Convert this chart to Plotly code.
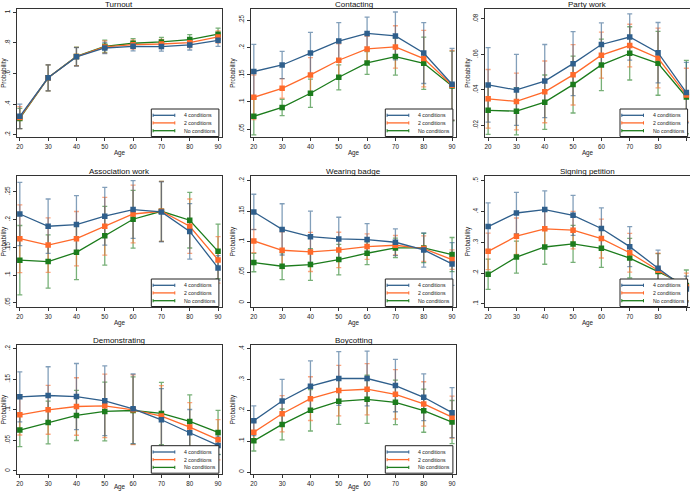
import plotly.graph_objects as go

ages = [20, 30, 40, 50, 60, 70, 80, 90]
series_names = ["4 conditions", "2 conditions", "No conditions"]
panel_titles = ["Turnout", "Contacting", "Party work", "Association work",
                "Wearing badge", "Signing petition", "Demonstrating", "Boycotting"]

# Turnout
turnout_4 = [0.320, 0.572, 0.709, 0.767, 0.778, 0.776, 0.787, 0.817]
turnout_4_err = [0.080, 0.085, 0.060, 0.037, 0.030, 0.030, 0.033, 0.040]
turnout_2 = [0.312, 0.572, 0.711, 0.774, 0.789, 0.793, 0.802, 0.839]
turnout_2_err = [0.072, 0.085, 0.060, 0.040, 0.030, 0.030, 0.033, 0.040]
turnout_0 = [0.306, 0.572, 0.712, 0.778, 0.798, 0.807, 0.822, 0.857]
turnout_0_err = [0.066, 0.085, 0.060, 0.040, 0.030, 0.030, 0.033, 0.040]

# Contacting
contact_4 = [0.156, 0.168, 0.190, 0.212, 0.226, 0.2215, 0.190, 0.1325]
contact_4_err = [0.050, 0.025, 0.038, 0.034, 0.030, 0.044, 0.056, 0.066]
contact_2 = [0.1086, 0.125, 0.1497, 0.1767, 0.1975, 0.2012, 0.1798, 0.1307]
contact_2_err = [0.041, 0.018, 0.032, 0.030, 0.023, 0.039, 0.052, 0.064]
contact_0 = [0.0736, 0.090, 0.116, 0.1454, 0.1718, 0.1834, 0.1712, 0.1294]
contact_0_err = [0.034, 0.015, 0.026, 0.023, 0.021, 0.034, 0.048, 0.064]

# Party work
party_4 = [0.0428, 0.0400, 0.0450, 0.0548, 0.0656, 0.0698, 0.0610, 0.0385]
party_4_err = [0.0210, 0.0200, 0.0206, 0.0180, 0.0122, 0.0130, 0.0170, 0.0170]
party_2 = [0.0350, 0.0335, 0.0389, 0.0485, 0.0596, 0.0650, 0.0580, 0.0372]
party_2_err = [0.0165, 0.0160, 0.0174, 0.0170, 0.0130, 0.0120, 0.0168, 0.0150]
party_0 = [0.0285, 0.0280, 0.0331, 0.0430, 0.0541, 0.0606, 0.0550, 0.0360]
party_0_err = [0.0135, 0.0133, 0.0153, 0.0160, 0.0145, 0.0150, 0.0180, 0.0207]

# Association work
assoc_4 = [0.210, 0.188, 0.191, 0.206, 0.218, 0.2137, 0.1786, 0.113]
assoc_4_err = [0.057, 0.049, 0.052, 0.052, 0.052, 0.054, 0.050, 0.022]
assoc_2 = [0.1655, 0.154, 0.1655, 0.188, 0.210, 0.2149, 0.188, 0.1274]
assoc_2_err = [0.061, 0.049, 0.049, 0.052, 0.052, 0.054, 0.049, 0.042]
assoc_0 = [0.1268, 0.1244, 0.141, 0.1708, 0.2006, 0.2149, 0.1988, 0.1428]
assoc_0_err = [0.0625, 0.048, 0.049, 0.053, 0.052, 0.054, 0.050, 0.049]

# Wearing badge
badge_4 = [0.1486, 0.120, 0.108, 0.1044, 0.1033, 0.0989, 0.0863, 0.0634]
badge_4_err = [0.029, 0.042, 0.042, 0.0355, 0.026, 0.022, 0.028, 0.035]
badge_2 = [0.101, 0.0858, 0.083, 0.0863, 0.0918, 0.094, 0.0885, 0.0705]
badge_2_err = [0.019, 0.030, 0.032, 0.029, 0.021, 0.016, 0.021, 0.016]
badge_0 = [0.0656, 0.0596, 0.0623, 0.0705, 0.0809, 0.0896, 0.0896, 0.0787]
badge_0_err = [0.015, 0.022, 0.026, 0.025, 0.0186, 0.016, 0.024, 0.028]

# Signing petition
petition_4 = [0.351, 0.395, 0.406, 0.3874, 0.3448, 0.2858, 0.2158, 0.148]
petition_4_err = [0.077, 0.067, 0.061, 0.065, 0.067, 0.065, 0.059, 0.042]
petition_2 = [0.2705, 0.3197, 0.3437, 0.3393, 0.312, 0.2661, 0.2093, 0.155]
petition_2_err = [0.059, 0.059, 0.058, 0.061, 0.063, 0.063, 0.055, 0.045]
petition_0 = [0.1962, 0.2519, 0.2847, 0.2945, 0.2803, 0.2486, 0.205, 0.160]
petition_0_err = [0.049, 0.052, 0.056, 0.060, 0.062, 0.064, 0.058, 0.050]

# Demonstrating
demo_4 = [0.1212, 0.1234, 0.1217, 0.1147, 0.1016, 0.0837, 0.0625, 0.0418]
demo_4_err = [0.041, 0.047, 0.054, 0.057, 0.057, 0.051, 0.038, 0.015]
demo_2 = [0.0918, 0.100, 0.1054, 0.1065, 0.100, 0.0897, 0.0717, 0.0511]
demo_2_err = [0.033, 0.040, 0.047, 0.052, 0.057, 0.050, 0.040, 0.033]
demo_0 = [0.0668, 0.0793, 0.0908, 0.0973, 0.0989, 0.094, 0.081, 0.063]
demo_0_err = [0.027, 0.035, 0.041, 0.048, 0.055, 0.051, 0.0435, 0.036]

# Boycotting
boycott_4 = [0.1663, 0.2304, 0.2783, 0.3033, 0.3033, 0.2804, 0.2424, 0.1924]
boycott_4_err = [0.048, 0.070, 0.082, 0.087, 0.089, 0.085, 0.076, 0.081]
boycott_2 = [0.1293, 0.189, 0.238, 0.264, 0.2685, 0.252, 0.2207, 0.178]
boycott_2_err = [0.033, 0.059, 0.071, 0.082, 0.083, 0.080, 0.072, 0.068]
boycott_0 = [0.1011, 0.1543, 0.200, 0.2293, 0.2359, 0.226, 0.199, 0.162]
boycott_0_err = [0.033, 0.050, 0.067, 0.075, 0.078, 0.072, 0.070, 0.070]

# y tick values / labels per panel
yticks = [
    [0.2, 0.4, 0.6, 0.8, 1.0],
    [0.05, 0.10, 0.15, 0.20, 0.25],
    [0.02, 0.04, 0.06, 0.08],
    [0.05, 0.10, 0.15, 0.20, 0.25],
    [0, 0.05, 0.10, 0.15, 0.20],
    [0.1, 0.2, 0.3, 0.4, 0.5],
    [0, 0.05, 0.10, 0.15, 0.20],
    [0, 0.1, 0.2, 0.3, 0.4],
]
ytick_labels = [
    [".2", ".4", ".6", ".8", "1"],
    [".05", ".1", ".15", ".2", ".25"],
    [".02", ".04", ".06", ".08"],
    [".05", ".1", ".15", ".2", ".25"],
    ["0", ".05", ".1", ".15", ".2"],
    [".1", ".2", ".3", ".4", ".5"],
    ["0", ".05", ".1", ".15", ".2"],
    ["0", ".1", ".2", ".3", ".4"],
]
yranges = [
    [0.183, 1.022], [0.035, 0.271], [0.0133, 0.0856], [0.042, 0.279],
    [-0.0077, 0.208], [0.089, 0.516], [-0.005, 0.206], [-0.0065, 0.412],
]
xtick_vals = [20, 30, 40, 50, 60, 70, 80, 90]

panels = [
    [(turnout_4, turnout_4_err), (turnout_2, turnout_2_err), (turnout_0, turnout_0_err)],
    [(contact_4, contact_4_err), (contact_2, contact_2_err), (contact_0, contact_0_err)],
    [(party_4, party_4_err), (party_2, party_2_err), (party_0, party_0_err)],
    [(assoc_4, assoc_4_err), (assoc_2, assoc_2_err), (assoc_0, assoc_0_err)],
    [(badge_4, badge_4_err), (badge_2, badge_2_err), (badge_0, badge_0_err)],
    [(petition_4, petition_4_err), (petition_2, petition_2_err), (petition_0, petition_0_err)],
    [(demo_4, demo_4_err), (demo_2, demo_2_err), (demo_0, demo_0_err)],
    [(boycott_4, boycott_4_err), (boycott_2, boycott_2_err), (boycott_0, boycott_0_err)],
]

colors = ["#2f5f8c", "#ff6a2b", "#1c7c1c"]
err_colors = ["rgba(47,95,140,0.6)", "rgba(255,106,43,0.6)", "rgba(28,124,28,0.6)"]

W, H = 690, 491
FONT = "Liberation Sans, Arial, sans-serif"
col_px = [(16.7, 222.3), (250.7, 456.3), (485.0, 690.0)]
row_px = [(9.0, 137.3), (175.7, 307.3), (345.0, 474.0)]

fig = go.Figure()
layout = dict(
    width=W, height=H, margin=dict(l=0, r=0, t=0, b=0),
    paper_bgcolor="white", plot_bgcolor="white", showlegend=False,
    font=dict(family=FONT, size=6, color="#222"),
)
shapes = []
annotations = []

for i, series in enumerate(panels):
    r, c = divmod(i, 3)
    x0p, x1p = col_px[c]
    y0p, y1p = row_px[r]
    sfx = "" if i == 0 else str(i + 1)
    xa, ya = "x" + sfx, "y" + sfx
    wpx, hpx = x1p - x0p, y1p - y0p
    xr = [18.9, 91.5] if c < 2 else [18.9, 18.9 + 72.6 * wpx / 205.6]

    layout["xaxis" + sfx] = dict(
        domain=[x0p / W, x1p / W], anchor=ya, range=xr, tickvals=xtick_vals,
        showline=True, linecolor="#333", linewidth=1, mirror=True,
        ticks="outside", ticklen=3, tickcolor="#333", showgrid=False, zeroline=False,
        tickfont=dict(size=6.3), automargin=False,
        title=dict(text="Age", font=dict(size=6.3), standoff=1),
    )
    layout["yaxis" + sfx] = dict(
        domain=[1 - y1p / H, 1 - y0p / H], anchor=xa, range=yranges[i],
        tickvals=yticks[i], ticktext=ytick_labels[i], tickangle=-90,
        showline=True, linecolor="#333", linewidth=1, mirror=True,
        ticks="outside", ticklen=3, tickcolor="#333", showgrid=False, zeroline=False,
        tickfont=dict(size=6.3), automargin=False,
        title=dict(text="Probability", font=dict(size=6.3), standoff=1),
    )

    # error bars (drawn first), from No -> 4
    for k in [2, 1, 0]:
        vals, errs = series[k]
        fig.add_trace(go.Scatter(
            x=ages, y=vals, mode="markers", xaxis=xa, yaxis=ya,
            marker=dict(size=1, color="rgba(0,0,0,0)"),
            error_y=dict(type="data", array=errs, visible=True,
                         color=err_colors[k], thickness=1.3, width=2.5),
            showlegend=False, hoverinfo="skip"))
    for k in [2, 1, 0]:
        vals, errs = series[k]
        fig.add_trace(go.Scatter(
            x=ages, y=vals, mode="lines+markers", xaxis=xa, yaxis=ya,
            name=series_names[k],
            line=dict(color=colors[k], width=1.3),
            marker=dict(symbol="square", size=5.5, color=colors[k]),
            showlegend=False))

    # panel title
    annotations.append(dict(
        text=panel_titles[i], xref=xa + " domain", yref=ya + " domain",
        x=0.5, y=1, xanchor="center", yanchor="middle", yshift=4.6,
        showarrow=False, font=dict(size=8, color="#111")))

    # custom Stata-like legend box at bottom-right
    right_edge = x0p + 206 if c == 2 else x1p
    bx0 = (right_edge - 71 - x0p) / wpx
    bx1 = (right_edge - 3.4 - x0p) / wpx
    by0 = 0.8 / hpx
    by1 = 28.3 / hpx
    shapes.append(dict(type="rect", xref=xa + " domain", yref=ya + " domain",
                       x0=bx0, x1=bx1, y0=by0, y1=by1, layer="above",
                       fillcolor="white", line=dict(color="#222", width=1)))
    item_y = [22.0, 14.4, 6.6]
    lx0 = (right_edge - 71 + 1.8 - x0p) / wpx
    lx1 = (right_edge - 71 + 23.5 - x0p) / wpx
    tx = (right_edge - 71 + 32.0 - x0p) / wpx
    for k in range(3):
        yy = item_y[k] / hpx
        cap = 1.6 / hpx
        shapes.append(dict(type="line", xref=xa + " domain", yref=ya + " domain",
                           x0=lx0, x1=lx1, y0=yy, y1=yy, layer="above",
                           line=dict(color=colors[k], width=1.3)))
        for xe in (lx0, lx1):
            shapes.append(dict(type="line", xref=xa + " domain", yref=ya + " domain",
                               x0=xe, x1=xe, y0=yy - cap, y1=yy + cap, layer="above",
                               line=dict(color=colors[k], width=1)))
        annotations.append(dict(
            text=series_names[k], xref=xa + " domain", yref=ya + " domain",
            x=tx, y=yy, xanchor="left", yanchor="middle", showarrow=False,
            borderpad=0,
            font=dict(size=5.2, color="#222")))

layout["shapes"] = shapes
layout["annotations"] = annotations
fig.update_layout(**layout)
fig.write_html(
    "out.html",
    config={"displayModeBar": False},
    post_script="document.body.style.margin='0';document.body.style.overflow='hidden';",
)
